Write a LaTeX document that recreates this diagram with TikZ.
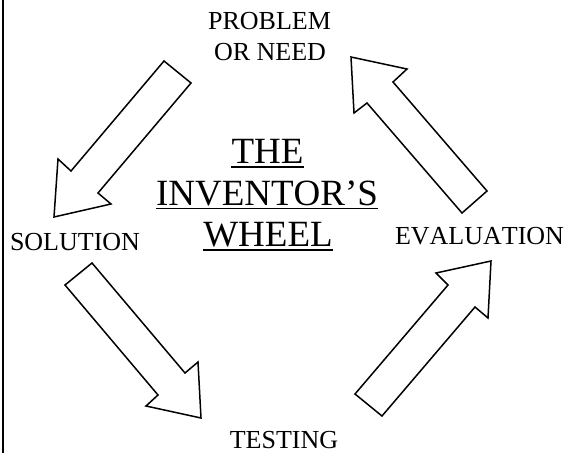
\documentclass[tikz,border=0pt]{standalone}
\usepackage{fontspec}
\setmainfont{Liberation Serif}[Kerning=Off]
\begin{document}
\begin{tikzpicture}[x=1pt,y=-1pt,
  blockarrow/.style={draw=black,line width=1.5pt,line join=miter,fill=white},
  lbl/.style={anchor=base,inner sep=0pt,font=\fontsize{26}{30}\selectfont},
  ttl/.style={anchor=base,inner sep=0pt,font=\fontsize{37}{42}\selectfont},
  uline/.style={line width=1.8pt}]
\useasboundingbox (0,0) rectangle (567,453);
% left border line
\draw[line width=2pt] (3,0) -- (3,453);
% labels
\node[lbl] (prob1) at (269.5,29) {PROBLEM};
\node[lbl] (prob2) at (270,60) {OR NEED};
\node[lbl] (sol) at (75,250) {SOLUTION};
\node[lbl] (eval) at (479.5,244) {EVALUATION};
\node[lbl] (test) at (284,448.5) {TESTING};
% title
\node[ttl] (t1) at (267.5,163.3) {THE};
\node[ttl] (t2) at (267,205) {INVENTOR’S};
\node[ttl] (t3) at (268,246.7) {WHEEL};
\foreach \n in {t1,t2,t3}
  \draw[uline] ([yshift=-3.5pt]\n.base west) -- ([yshift=-3.5pt]\n.base east);
% block arrows
\draw[blockarrow] (164,61) -- (191,83) -- (98,193) -- (111,204) -- (54,217) -- (58,159) -- (71,171) -- cycle;
\draw[blockarrow] (351,57) -- (407,69) -- (393,82) -- (487,191) -- (462,213) -- (367,103) -- (354,113) -- cycle;
\draw[blockarrow] (92,263) -- (65,285) -- (158,395) -- (146,406) -- (201,418) -- (198,362) -- (185,373) -- cycle;
\draw[blockarrow] (355,394) -- (382,416) -- (475,307) -- (488,318) -- (491,261) -- (436,273) -- (448,285) -- cycle;
\end{tikzpicture}
\end{document}
